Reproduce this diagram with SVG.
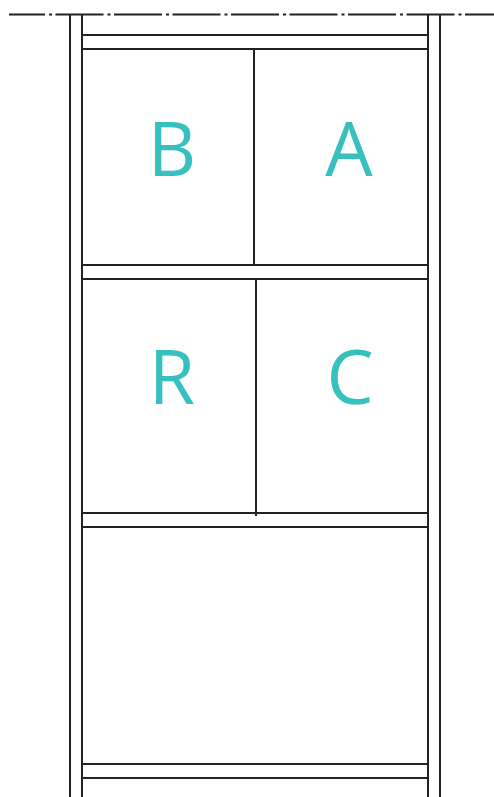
<svg xmlns="http://www.w3.org/2000/svg" width="494" height="797" viewBox="0 0 494 797">
<style>
.ln{stroke:#222;stroke-width:2;fill:none}
.axis{stroke:#222;stroke-width:2;fill:none;stroke-dasharray:48 4 3 3.5;stroke-dashoffset:12}
.lbl{font-family:"Open Sans","Noto Sans",sans-serif;font-size:75px;fill:#36c0bf;text-anchor:middle}
</style>
<rect width="494" height="797" fill="#fff"/>
<g id="axis"><line class="axis" x1="9" y1="14.5" x2="494" y2="14.5"/></g>
<g id="frame">
<line class="ln" x1="70" y1="14" x2="70" y2="797"/>
<line class="ln" x1="82" y1="14" x2="82" y2="797"/>
<line class="ln" x1="428" y1="14" x2="428" y2="797"/>
<line class="ln" x1="440" y1="14" x2="440" y2="797"/>
<line class="ln" x1="82" y1="35" x2="428" y2="35"/>
<line class="ln" x1="82" y1="49" x2="428" y2="49"/>
<line class="ln" x1="82" y1="265" x2="428" y2="265"/>
<line class="ln" x1="82" y1="279" x2="428" y2="279"/>
<line class="ln" x1="82" y1="513" x2="428" y2="513"/>
<line class="ln" x1="82" y1="527" x2="428" y2="527"/>
<line class="ln" x1="82" y1="764" x2="428" y2="764"/>
<line class="ln" x1="82" y1="778" x2="428" y2="778"/>
<line class="ln" x1="254" y1="49" x2="254" y2="265"/>
<line class="ln" x1="256" y1="279" x2="256" y2="516"/>
</g>
<g id="B"><text class="lbl" x="172" y="176">B</text></g>
<g id="A"><text class="lbl" x="349" y="176">A</text></g>
<g id="R"><text class="lbl" x="172" y="404">R</text></g>
<g id="C"><text class="lbl" x="350" y="404">C</text></g>
</svg>
